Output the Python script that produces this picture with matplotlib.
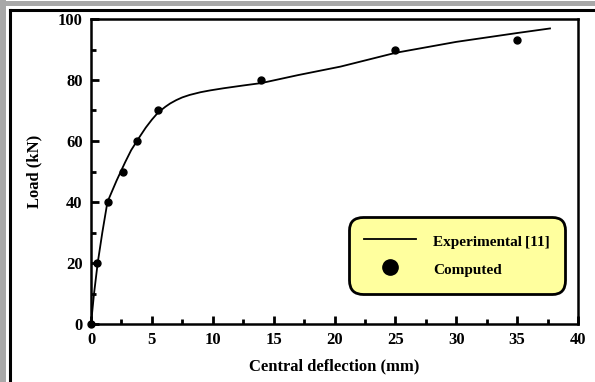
import matplotlib
matplotlib.use("Agg")
import matplotlib.pyplot as plt
from matplotlib.lines import Line2D

# Data
exp_x = [0, 0.25, 0.55, 0.93, 1.35, 2.1, 2.8, 3.3, 4.0, 4.5, 5.0, 5.5, 6.1, 6.5, 7.0, 7.5, 8.1, 9.0, 9.8, 10.9, 12.5, 14.0, 17.0, 20.5, 25.0, 30.0, 35.0, 37.7]
exp_y = [0, 10, 20, 30, 40, 47, 53, 57, 61.4, 64.4, 67, 69.3, 71.2, 72.3, 73.4, 74.3, 75.1, 76.0, 76.6, 77.3, 78.2, 79.0, 81.6, 84.4, 88.9, 92.5, 95.4, 96.9]
comp_x = [0, 0.47, 1.42, 2.65, 3.8, 5.5, 14.0, 25.0, 35.0]
comp_y = [0, 20, 40, 50, 60, 70, 80, 90, 93]
x_ticks = [0, 5, 10, 15, 20, 25, 30, 35, 40]
y_ticks = [0, 20, 40, 60, 80, 100]
series_labels = ['Experimental\u2009[11]', 'Computed']

plt.rcParams['font.family'] = ['Liberation Serif', 'DejaVu Serif']
plt.rcParams['font.weight'] = 'bold'

W, H = 595, 382
fig = plt.figure(figsize=(W/100, H/100), dpi=100)
ax = fig.add_axes([91/W, 1-324/H, (578-91)/W, (324-19)/H])

ax.plot(exp_x, exp_y, color='black', lw=1.3, label=series_labels[0])
ax.plot(comp_x, comp_y, linestyle='none', marker='o', color='black', ms=5, clip_on=False, zorder=5, label=series_labels[1])

ax.set_xlim(0, 40)
ax.set_ylim(0, 100)
ax.set_xticks(x_ticks)
ax.set_yticks(y_ticks)
ax.set_xticks([2.5 + 5*i for i in range(8)], minor=True)
ax.set_yticks([10 + 20*i for i in range(5)], minor=True)
ax.tick_params(which='major', direction='in', length=6, width=2, labelsize=12, pad=6)
ax.tick_params(which='minor', direction='in', length=3.5, width=2)
ax.tick_params(top=False, right=False, which='both')
for lab in ax.get_xticklabels() + ax.get_yticklabels():
    lab.set_fontweight('bold')
for s in ax.spines.values():
    s.set_linewidth(1.8)

ax.set_xlabel('Central deflection (mm)', fontsize=12, fontweight='bold', labelpad=7)
ax.set_ylabel('Load (kN)', fontsize=12, fontweight='bold', labelpad=11)

leg = ax.legend(loc='center', bbox_to_anchor=(0.752, 0.226), frameon=True, fancybox=True,
                prop={'family': 'Liberation Serif', 'weight': 'bold', 'size': 11},
                handlelength=3.4, handleheight=1.53, handletextpad=1.1, labelspacing=0.56,
                borderpad=1.0, borderaxespad=0, framealpha=1)
frame = leg.get_frame()
frame.set_facecolor('#FFFF9E')
frame.set_edgecolor('black')
frame.set_linewidth(2)
frame.set_boxstyle('round,pad=0,rounding_size=0.9')
leg.legend_handles[1].set_markersize(11)

# outer frame decorations (top & left)
fig.add_artist(Line2D([0, 1], [1-2.5/H, 1-2.5/H], transform=fig.transFigure, color='#a8a8a8', lw=3.6))
fig.add_artist(Line2D([3/W, 3/W], [0, 1], transform=fig.transFigure, color='#a8a8a8', lw=4.3))
fig.add_artist(Line2D([9.5/W, 1], [1-9.5/H, 1-9.5/H], transform=fig.transFigure, color='black', lw=2.2))
fig.add_artist(Line2D([9.5/W, 9.5/W], [0, 1-9.5/H], transform=fig.transFigure, color='black', lw=2.2))

fig.savefig('out.png', dpi=100)
